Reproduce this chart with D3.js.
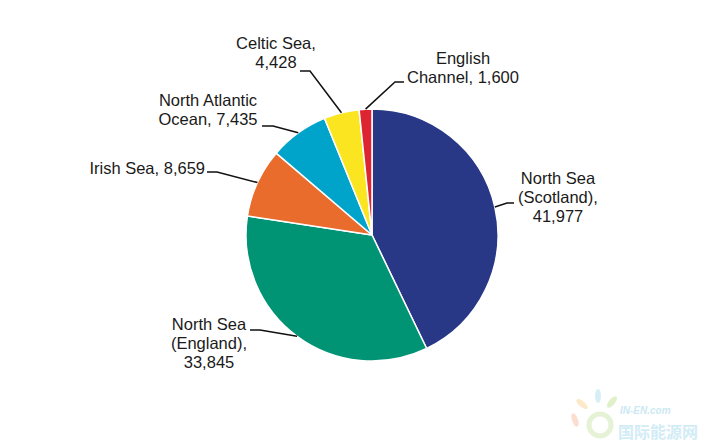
<!DOCTYPE html>
<html>
<head>
<meta charset="utf-8">
<script src="https://cdn.jsdelivr.net/npm/d3@7/dist/d3.min.js"></script>
<style>
  html, body { margin: 0; padding: 0; background: #fff; }
  svg { display: block; }
  text { font-family: "Liberation Sans", Arial, sans-serif; fill: #1a1a1a; }
</style>
</head>
<body>
<svg id="chart" width="707" height="444"></svg>
<script>
// ---- data ----
const categories = ["North Sea (Scotland)", "North Sea (England)", "Irish Sea", "North Atlantic Ocean", "Celtic Sea", "English Channel"];
const values = [41977, 33845, 8659, 7435, 4428, 1600];
const labelLines = [
  ["North Sea", "(Scotland),", "41,977"],
  ["North Sea", "(England),", "33,845"],
  ["Irish Sea, 8,659"],
  ["North Atlantic", "Ocean, 7,435"],
  ["Celtic Sea,", "4,428"],
  ["English", "Channel, 1,600"]
];
const colors = ["#283887", "#009374", "#E96C2C", "#00A3C9", "#FBE521", "#DD2531"];

// ---- layout (label placement) ----
const cx = 372, cy = 235, R = 126;
const labelLayout = [
  { tx: 558, ty: 184, anchor: "middle", elbow: [507, 203], end: [514, 203] },
  { tx: 209, ty: 330, anchor: "middle", elbow: [260, 330], end: [250, 330] },
  { tx: 205, ty: 174, anchor: "end",    elbow: [217, 172], end: [207, 172] },
  { tx: 208, ty: 106, anchor: "middle", elbow: [273, 126], end: [262, 126] },
  { tx: 276, ty: 49,  anchor: "middle", elbow: [310, 71],  end: [300, 71] },
  { tx: 463, ty: 64,  anchor: "middle", elbow: [395, 82],  end: [404, 82] }
];
const lineHeight = 19;

const svg = d3.select("#chart");
const g = svg.append("g").attr("transform", `translate(${cx},${cy})`);

const data = categories.map((c, i) => ({ name: c, value: values[i], i }));
const pie = d3.pie().value(d => d.value).sort(null).startAngle(0).endAngle(2 * Math.PI);
const arcs = pie(data);
const arc = d3.arc().innerRadius(0).outerRadius(R);
const color = d3.scaleOrdinal().domain(categories).range(colors);

g.selectAll("path.slice")
  .data(arcs)
  .join("path")
  .attr("class", "slice")
  .attr("d", arc)
  .attr("fill", d => color(d.data.name))
  .attr("stroke", "#ffffff")
  .attr("stroke-width", 1.5)
  .attr("stroke-linejoin", "round");

// leader lines
const edgePoint = d => {
  const a = (d.startAngle + d.endAngle) / 2;
  return [cx + R * Math.sin(a), cy - R * Math.cos(a)];
};
svg.selectAll("polyline.leader")
  .data(arcs)
  .join("polyline")
  .attr("class", "leader")
  .attr("points", d => {
    const L = labelLayout[d.data.i];
    const p = edgePoint(d);
    return [p, L.elbow, L.end].map(q => q.join(",")).join(" ");
  })
  .attr("fill", "none")
  .attr("stroke", "#111")
  .attr("stroke-width", 1.5);

// labels
const lbl = svg.selectAll("text.lbl")
  .data(arcs)
  .join("text")
  .attr("class", "lbl")
  .attr("font-size", 16.5)
  .attr("text-anchor", d => labelLayout[d.data.i].anchor);
lbl.each(function(d) {
  const L = labelLayout[d.data.i];
  d3.select(this).selectAll("tspan")
    .data(labelLines[d.data.i])
    .join("tspan")
    .attr("x", L.tx)
    .attr("y", (t, k) => L.ty + k * lineHeight)
    .text(t => t);
});

// faint watermark
const wm = svg.append("g").attr("opacity", 0.35);
const petals = [["#f4a37a", 575, 420, -20], ["#f6c26b", 582, 404, -50], ["#8fd0e8", 598, 396, 0], ["#a8d66a", 612, 402, 40]];
wm.selectAll("ellipse").data(petals).join("ellipse")
  .attr("cx", d => d[1]).attr("cy", d => d[2]).attr("rx", 3).attr("ry", 7)
  .attr("transform", d => `rotate(${d[3]},${d[1]},${d[2]})`)
  .attr("fill", d => d[0]);
wm.append("circle").attr("cx", 600).attr("cy", 425).attr("r", 11)
  .attr("fill", "none").attr("stroke", "#b9dc8c").attr("stroke-width", 5);
wm.append("text").attr("x", 620).attr("y", 414).attr("font-size", 10)
  .attr("font-style", "italic").attr("font-weight", "bold")
  .style("fill", "#6cc0dd").text("IN-EN.com");
wm.append("text").attr("x", 618).attr("y", 438).attr("font-size", 16)
  .style("font-family", "'Noto Sans CJK SC', sans-serif").attr("font-weight", "bold")
  .style("fill", "#7fcbe6").text("国际能源网");
</script>
</body>
</html>
